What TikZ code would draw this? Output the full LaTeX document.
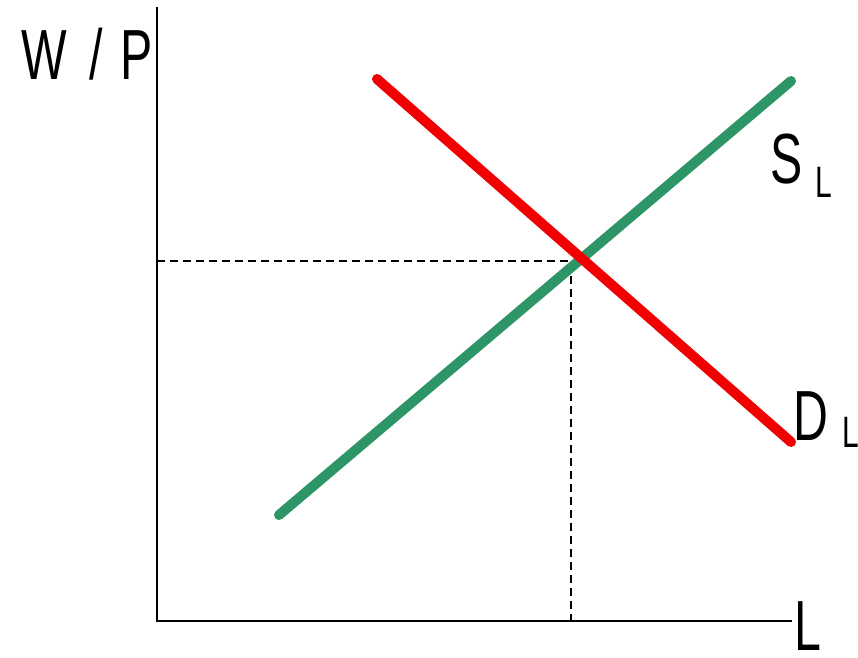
\documentclass[tikz,border=0pt]{standalone}
\usepackage{fontspec}
\setmainfont{Liberation Sans}
\definecolor{supgreen}{RGB}{46,150,102}
\definecolor{demred}{RGB}{240,0,0}
\begin{document}
\begin{tikzpicture}[x=1pt,y=-1pt,
  axis/.style={line width=2pt,black},
  guide/.style={line width=2pt,black,dash pattern=on 8pt off 5pt},
  curve/.style={line width=10pt,line cap=round},
  big/.style={inner sep=0pt,anchor=base west,font=\fontsize{71}{71}\selectfont},
  small/.style={inner sep=0pt,anchor=base west,font=\fontsize{44}{44}\selectfont}]
\useasboundingbox (0,0) rectangle (858,657);
\coordinate (top) at (157,7);
\coordinate (origin) at (157,621);
\coordinate (right) at (792,621);
\coordinate (eqy) at (157,261);
\coordinate (eq) at (571,261);
\coordinate (eqx) at (571,621);
\coordinate (d1) at (377,79);
\coordinate (d2) at (791,442);
\coordinate (s1) at (279,515);
\coordinate (s2) at (791,81);
\draw[guide] (eqy) -- (eq) -- (eqx);
\draw[axis] (top) -- (origin) -- (right);
\draw[curve,supgreen] (s1) -- (s2);
\draw[curve,demred] (d1) -- (d2);
\node[big] (wp) at (21,79) {\scalebox{0.68}[1]{W\hspace{33pt}/\hspace{26pt}P}};
\node[big] (S) at (770,183) {\scalebox{0.68}[1]{S}};
\node[small] (Ssub) at (815,197) {\scalebox{0.68}[1]{L}};
\node[big] (D) at (793,440) {\scalebox{0.68}[1]{D}};
\node[small] (Dsub) at (842,447) {\scalebox{0.68}[1]{L}};
\node[big] (Lx) at (794,650) {\scalebox{0.68}[1]{L}};
\end{tikzpicture}
\end{document}
